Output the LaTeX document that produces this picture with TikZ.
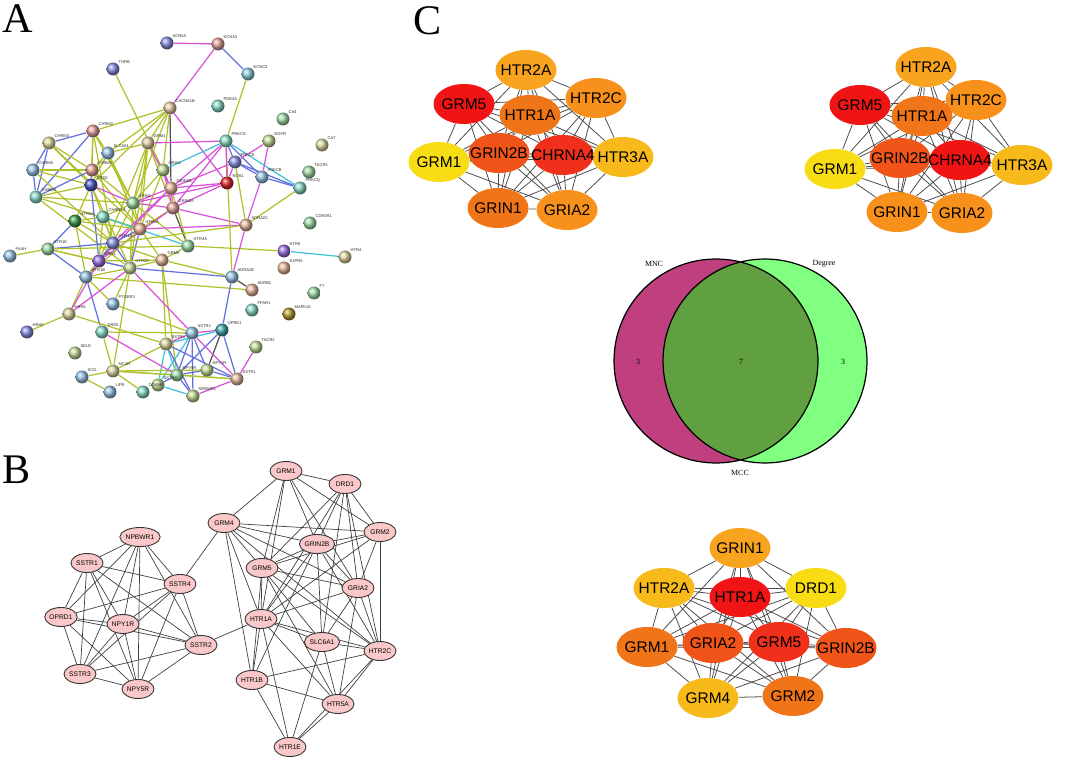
\documentclass[tikz,border=0pt]{standalone}
\usepackage{fontspec}
\setmainfont{Liberation Serif}
\newfontfamily\arialfont{Liberation Sans}
\usetikzlibrary{shapes.geometric,backgrounds}

% cores do painel A
\definecolor{sBlue}{HTML}{8A8FE0}
\definecolor{sSalmon}{HTML}{E4A09A}
\definecolor{sCyan}{HTML}{8CCFE0}
\definecolor{sTan}{HTML}{E0CCA0}
\definecolor{sAqua}{HTML}{8ADCC8}
\definecolor{sGreen}{HTML}{A0DCA8}
\definecolor{sKhaki}{HTML}{DCD8A0}
\definecolor{sLime}{HTML}{C4DC98}
\definecolor{sRed}{HTML}{E02828}
\definecolor{sNavy}{HTML}{4858C0}
\definecolor{sDkGreen}{HTML}{3C9C48}
\definecolor{sPurple}{HTML}{9A70E0}
\definecolor{sPeach}{HTML}{E8B89C}
\definecolor{sTeal}{HTML}{3CA8B0}
\definecolor{sOlive}{HTML}{B09830}
\definecolor{sLtBlue}{HTML}{98C4E4}
\definecolor{ey}{HTML}{B0C028}
\definecolor{em}{HTML}{D850D8}
\definecolor{eb}{HTML}{6070E0}
\definecolor{ec}{HTML}{40C0D8}
\definecolor{ek}{HTML}{505050}
% cores do painel B e C
\definecolor{bpink}{HTML}{FAC8C8}
\definecolor{cRed}{HTML}{F01414}
\definecolor{cRedA}{HTML}{F0301A}
\definecolor{cRedOr}{HTML}{F05418}
\definecolor{cOrDark}{HTML}{F07418}
\definecolor{cOrange}{HTML}{F8901C}
\definecolor{cOrLight}{HTML}{F8A41E}
\definecolor{cYelOr}{HTML}{F8BA1A}
\definecolor{cYellow}{HTML}{F8DC14}
\definecolor{vMnc}{HTML}{C0407F}
\definecolor{vDeg}{HTML}{80FF80}
\definecolor{vBoth}{HTML}{60A040}

\tikzset{
  aball/.style={circle,inner sep=0pt,minimum size=0.26cm,ball color=#1},
  alabel/.style={font=\arialfont\fontsize{2.3}{2.5}\selectfont,inner sep=0.3pt,text=black!85},
  aedge/.style={line width=0.7pt,draw=#1},
  bnode/.style={ellipse,draw=black!80,line width=0.5pt,fill=bpink,minimum width=0.64cm,
    minimum height=0.38cm,inner sep=0pt,font=\arialfont\fontsize{3.8}{4}\selectfont},
  bedge/.style={draw=black!75,line width=0.4pt},
  cnode/.style={ellipse,fill=#1,minimum width=1.22cm,minimum height=0.8cm,inner sep=0pt},
  ctext/.style={inner sep=0pt,font=\arialfont\fontsize{8.8}{10}\selectfont},
  cedge/.style={draw=black!70,line width=0.45pt},
  letter/.style={font=\fontsize{24}{26}\selectfont,inner sep=0pt},
  vlabel/.style={font=\fontsize{4.5}{5}\selectfont,inner sep=0pt}
}

\begin{document}
\begin{tikzpicture}[x=0.02cm,y=-0.02cm]
  \useasboundingbox (0,0) rectangle (1065,760);

  \node[letter] (lblA) at (18,19) {A};
  \node[letter] (lblB) at (17,470) {B};
  \node[letter] (lblC) at (428,21) {C};

    % Painel A
  \foreach \n/\x/\y/\c in {SCN5A/167/43/sBlue, KCNA3/218/44/sSalmon, THRB/113/69/sBlue,
      KCNC3/248/74/sCyan, CACNA1B/170/108/sTan, PDE2A/218/106/sAqua, CA4/283/119/sGreen,
      CA7/322/145/sKhaki, CHRM2/93/131/sSalmon, CHRM3/49/143/sKhaki, GRM1/148/143/sTan,
      PRKCG/226/141/sAqua, EGFR/269/141/sLime, SLC6A1/108/153/sLtBlue, CHRM5/33/170/sLtBlue,
      CHRM1/92/170/sSalmon, GRIA2/163/170/sLime, PRKCE/235/162/sBlue, PRKCB/262/177/sLtBlue,
      TACR3/309/172/sGreen, PRKCQ/300/188/sAqua, NOS1/227/183/sRed, GRIN2B/171/188/sPeach,
      DRD2/91/185/sNavy, CHRM4/36/197/sAqua, GRIN1/133/203/sGreen, GRIN2A/173/208/sSalmon,
      HTR5A/75/221/sDkGreen, CHRNA4/103/217/sAqua, ADRA2C/246/225/sPeach, HTR2A/140/229/sPeach,
      CDK5R1/310/223/sGreen, HTR1A/113/243/sBlue, HTR3A/188/246/sGreen, HTR1E/48/249/sGreen,
      FAAH/10/256/sLtBlue, HTR6/284/251/sPurple, HTR4/345/257/sKhaki, DRD1/99/261/sPurple,
      GRM8/162/260/sPeach, HTR2C/130/268/sLime, S1PR5/284/268/sPeach, HTR1B/86/277/sLtBlue,
      ADRA1B/232/277/sLtBlue, ADRB1/252/290/sPeach, F7/314/293/sGreen, PTGER3/113/304/sLtBlue,
      FFAR1/252/310/sAqua, MAPK10/289/314/sOlive, HRH3/69/314/sKhaki, HRH2/27/332/sBlue,
      OPRD1/222/330/sTeal, SSTR2/192/333/sLtBlue, DRD5/102/332/sAqua, SSTR4/166/344/sKhaki,
      TACR2/256/347/sLime, SELE/75/353/sLime, MC4R/113/371/sKhaki, NPY1R/207/370/sLime,
      NPY5R/177/375/sGreen, SSTR1/237/379/sPeach, SCD/82/377/sLtBlue, SSTR3/158/385/sLime,
      NPBWR1/193/396/sLime, CCKBR/143/392/sAqua, LIPE/110/392/sLtBlue}
    \node[aball=\c,label={[alabel]45:\n}] (a\n) at (\x,\y) {};

  \begin{pgfonlayer}{background}
  \foreach \a/\b/\k in {SCN5A/KCNA3/em, KCNA3/KCNC3/eb, KCNA3/CACNA1B/em, KCNC3/PRKCG/ey,
      THRB/GRIA2/ey, CACNA1B/CHRM2/ey, CACNA1B/GRM1/ey, CACNA1B/GRIA2/ey, CACNA1B/GRIN2B/ek,
      CACNA1B/NOS1/em, CACNA1B/SLC6A1/ey, CACNA1B/GRIN1/ey, CACNA1B/DRD2/ey,
      CHRM2/CHRM3/eb, CHRM2/CHRM1/ey, CHRM2/DRD2/ey, CHRM2/CHRM4/eb, CHRM2/SLC6A1/ey,
      CHRM2/GRIN1/ey, CHRM2/HTR1A/ey, CHRM3/CHRM5/eb, CHRM3/CHRM1/ey, CHRM3/DRD2/ey,
      CHRM3/HTR2A/ey, CHRM3/CHRM4/eb, CHRM5/CHRM4/eb, CHRM5/CHRM1/ey, CHRM5/DRD2/ey,
      CHRM5/HTR1A/ey, CHRM4/CHRM1/eb, CHRM4/DRD2/ey, CHRM4/HTR2A/ey, CHRM4/HTR2C/ey,
      CHRM4/GRIN1/ey, CHRM1/SLC6A1/ey, CHRM1/DRD2/eb, CHRM1/GRIN1/ey, CHRM1/HTR2A/ey,
      DRD2/SLC6A1/ey, DRD2/GRIN1/em, DRD2/HTR1A/ey, DRD2/DRD1/eb, DRD2/HTR2C/ey, DRD2/HTR5A/ey,
      SLC6A1/GRM1/ey, SLC6A1/GRIN1/ey, SLC6A1/HTR2A/ey, GRM1/GRIA2/ey, GRM1/GRIN2B/em,
      GRM1/GRIN1/ey, GRM1/GRIN2A/ey, GRM1/HTR2A/ey, GRM1/PRKCG/em, GRM1/DRD1/ey, GRM1/HTR2C/ey,
      GRIA2/GRIN2B/em, GRIA2/GRIN1/ey, GRIA2/GRIN2A/em, GRIA2/PRKCG/ec, GRIA2/HTR2A/ey,
      GRIN2B/GRIN2A/em, GRIN2B/GRIN1/em, GRIN2B/NOS1/em, GRIN2B/PRKCG/em, GRIN2B/PRKCE/em,
      GRIN2B/HTR1A/em, GRIN2B/DRD1/em, GRIN2A/GRIN1/em, GRIN2A/NOS1/em, GRIN2A/ADRA2C/em,
      GRIN2A/HTR3A/ek, GRIN2A/HTR2A/ey, GRIN2A/DRD1/em, GRIN1/HTR2A/ey, GRIN1/HTR1A/ey,
      GRIN1/HTR2C/ey, GRIN1/CHRNA4/ey, GRIN1/HTR3A/ey, HTR5A/CHRNA4/ey, HTR5A/HTR1A/ey,
      HTR5A/HTR1E/eb, HTR5A/HTR1B/ey, HTR5A/HTR2A/ey, CHRNA4/HTR2A/ey, CHRNA4/HTR1A/ey,
      CHRNA4/DRD1/ey, CHRNA4/HTR3A/ec, HTR2A/HTR1A/eb, HTR2A/HTR2C/eb, HTR2A/GRM8/ey,
      HTR2A/ADRA2C/em, HTR2A/HTR1B/ey, HTR1A/HTR1E/eb, HTR1A/DRD1/ey, HTR1A/HTR2C/eb,
      HTR1A/HTR1B/eb, HTR1A/GRM8/ey, HTR1E/FAAH/ey, HTR1E/DRD1/ey, HTR1E/HTR1B/eb,
      HTR1E/HTR2C/ey, HTR1E/HTR3A/ey, DRD1/HTR2C/eb, DRD1/HTR1B/ey, DRD1/GRM8/ey,
      GRM8/HTR2C/ey, GRM8/HTR3A/ey, GRM8/SSTR4/ey, GRM8/NPY5R/ey, HTR2C/HTR1B/ey,
      HTR2C/PTGER3/ey, HTR2C/ADRA1B/eb, HTR2C/MC4R/ey, HTR2C/SSTR2/em, HTR1B/HRH3/ey,
      HTR1B/DRD5/eb, HTR1B/PTGER3/ey, HTR1B/ADRB1/ey, HTR3A/HTR6/ey, HTR3A/GRIN2B/ey,
      HTR6/HTR4/ec, PRKCG/PRKCE/eb, PRKCG/PRKCB/eb, PRKCG/PRKCQ/ec, PRKCG/GRIN2A/em,
      PRKCG/ADRA1B/ey, EGFR/PRKCE/em, EGFR/PRKCB/em, PRKCE/PRKCB/eb, PRKCE/PRKCQ/eb,
      PRKCE/ADRA2C/ey, PRKCE/NOS1/em, PRKCB/PRKCQ/eb, PRKCB/ADRA2C/em, PRKCQ/ADRA2C/ey,
      NOS1/GRIN1/em, NOS1/PRKCG/em, ADRA2C/ADRA1B/em, ADRA2C/HTR1A/ey, ADRA1B/ADRB1/ek,
      ADRA1B/OPRD1/eb, ADRA1B/GRM8/ey, OPRD1/SSTR2/em, OPRD1/SSTR1/eb, OPRD1/NPY1R/ek,
      OPRD1/SSTR4/ec, OPRD1/NPY5R/eb, SSTR2/SSTR4/em, SSTR2/NPY1R/eb, SSTR2/NPY5R/eb,
      SSTR2/SSTR1/em, SSTR2/NPBWR1/eb, SSTR2/SSTR3/ec, SSTR2/DRD5/ey, SSTR2/PTGER3/ey,
      TACR2/SSTR1/em, SSTR1/NPY1R/eb, SSTR1/NPY5R/ey, SSTR1/NPBWR1/em, SSTR1/SSTR4/eb,
      SSTR1/MC4R/ey, SSTR4/NPY5R/ec, SSTR4/NPBWR1/eb, SSTR4/SSTR3/ec, SSTR4/HRH3/ey,
      SSTR4/MC4R/ey, NPY1R/NPY5R/eb, NPY1R/MC4R/ey, NPY5R/MC4R/ey, NPY5R/NPBWR1/eb,
      NPY5R/SSTR3/eb, SSTR3/NPBWR1/ec, MC4R/DRD5/ey, MC4R/CCKBR/ey, SCD/MC4R/ey, SCD/LIPE/ey,
      DRD5/NPY5R/em, HRH3/HRH2/ey, HRH3/HTR2C/em, HRH3/DRD1/em}
    \draw[aedge=\k] (a\a) -- (a\b);
  \end{pgfonlayer}

    % Painel B
  \foreach \n/\x/\y in {NPBWR1/140/537, SSTR1/87/563, SSTR4/180/584, OPRD1/61/617,
      NPY1R/123/624, SSTR2/201/645, SSTR3/80/674, NPY5R/138/689, GRM4/224/523, GRM5/262/568,
      HTR1A/261/619, HTR1B/252/680, GRM1/286/471, DRD1/345/484, GRM2/380/532, GRIN2B/317/544,
      GRIA2/358/588, SLC6A1/322/642, HTR2C/380/651, HTR5A/338/704, HTR1E/290/747}
    \node[bnode] (b\n) at (\x,\y) {\n};

  \begin{pgfonlayer}{background}
  \foreach \a [count=\i] in {NPBWR1,SSTR1,SSTR4,OPRD1,NPY1R,SSTR2,SSTR3,NPY5R}
    \foreach \b [count=\j] in {NPBWR1,SSTR1,SSTR4,OPRD1,NPY1R,SSTR2,SSTR3,NPY5R}
      {\ifnum\i<\j \draw[bedge] (b\a) -- (b\b); \fi}
  \foreach \a/\b in {SSTR4/GRM4, SSTR2/HTR1A, GRM4/GRM1, GRM4/GRM2, GRM4/GRIN2B, GRM4/GRM5,
      GRM4/GRIA2, GRM4/HTR1A, GRM4/HTR1B, GRM4/HTR2C, GRM1/DRD1, GRM1/GRM2, GRM1/GRIN2B,
      GRM1/GRM5, GRM1/HTR1A, GRM1/GRIA2, DRD1/GRM2, DRD1/GRIN2B, DRD1/GRM5, DRD1/GRIA2,
      DRD1/HTR1A, DRD1/SLC6A1, DRD1/HTR2C, GRM2/GRIN2B, GRM2/GRM5, GRM2/GRIA2, GRM2/HTR2C,
      GRM2/HTR1A, GRIN2B/GRM5, GRIN2B/GRIA2, GRIN2B/HTR1A, GRIN2B/SLC6A1, GRIN2B/HTR2C,
      GRIN2B/HTR1B, GRM5/GRIA2, GRM5/HTR1A, GRM5/HTR1B, GRM5/SLC6A1, GRM5/HTR2C, GRM5/HTR5A,
      GRIA2/HTR1A, GRIA2/SLC6A1, GRIA2/HTR2C, GRIA2/HTR5A, HTR1A/SLC6A1, HTR1A/HTR1B,
      HTR1A/HTR5A, HTR1A/HTR1E, HTR1A/HTR2C, SLC6A1/HTR2C, SLC6A1/HTR5A, SLC6A1/HTR1E,
      HTR2C/HTR1B, HTR2C/HTR5A, HTR2C/HTR1E, HTR1B/HTR5A, HTR1B/HTR1E, HTR5A/HTR1E}
    \draw[bedge] (b\a) -- (b\b);
  \end{pgfonlayer}

    % Painel C: MNC
  \foreach \n/\x/\y/\c in {HTR2A/526/70/cOrLight, HTR2C/596/98/cOrange, GRM5/464/104/cRed,
      HTR1A/530/115/cOrDark, GRM1/439/162/cYellow, GRIN2B/499/153/cRedOr,
      CHRNA4/563/155/cRedA, HTR3A/623/157/cYelOr, GRIN1/498/208/cOrDark, GRIA2/567/210/cOrange}
    \node[cnode=\c] (mnc\n) at (\x,\y) {};
  \foreach \n in {HTR2A,HTR2C,GRM5,HTR1A,GRM1,GRIN2B,CHRNA4,HTR3A,GRIN1,GRIA2}
    \node[ctext] (mnct\n) at (mnc\n) {\n};

    % Painel C: Degree
  \foreach \n/\x/\y/\c in {HTR2A/926/67/cOrLight, HTR2C/976/100/cOrange, GRM5/860/105/cRed,
      HTR1A/922/116/cOrDark, GRM1/835/169/cYellow, GRIN2B/900/158/cRedOr,
      CHRNA4/960/160/cRed, HTR3A/1022/165/cYelOr, GRIN1/897/212/cOrange, GRIA2/962/213/cOrange}
    \node[cnode=\c] (deg\n) at (\x,\y) {};
  \foreach \n in {HTR2A,HTR2C,GRM5,HTR1A,GRM1,GRIN2B,CHRNA4,HTR3A,GRIN1,GRIA2}
    \node[ctext] (degt\n) at (deg\n) {\n};

    % Painel C: MCC
  \foreach \n/\x/\y/\c in {GRIN1/740/548/cOrLight, HTR2A/664/588/cYelOr, DRD1/816/588/cYellow,
      HTR1A/740/597/cRed, GRM1/647/647/cOrDark, GRIA2/713/643/cRedOr, GRM5/779/642/cRedA,
      GRIN2B/846/648/cRedOr, GRM4/708/698/cYelOr, GRM2/793/696/cOrDark}
    \node[cnode=\c] (mcc\n) at (\x,\y) {};
  \foreach \n in {GRIN1,HTR2A,DRD1,HTR1A,GRM1,GRIA2,GRM5,GRIN2B,GRM4,GRM2}
    \node[ctext] (mcct\n) at (mcc\n) {\n};

  \begin{pgfonlayer}{background}
  \foreach \p in {mnc,deg}
    \foreach \a [count=\i] in {HTR2A,HTR2C,GRM5,HTR1A,GRM1,GRIN2B,CHRNA4,HTR3A,GRIN1,GRIA2}
      \foreach \b [count=\j] in {HTR2A,HTR2C,GRM5,HTR1A,GRM1,GRIN2B,CHRNA4,HTR3A,GRIN1,GRIA2}
        {\ifnum\i<\j \draw[cedge] (\p\a) -- (\p\b); \fi}
  \foreach \a [count=\i] in {GRIN1,HTR2A,DRD1,HTR1A,GRM1,GRIA2,GRM5,GRIN2B,GRM4,GRM2}
    \foreach \b [count=\j] in {GRIN1,HTR2A,DRD1,HTR1A,GRM1,GRIA2,GRM5,GRIN2B,GRM4,GRM2}
      {\ifnum\i<\j \draw[cedge] (mcc\a) -- (mcc\b); \fi}
  \end{pgfonlayer}

    % Venn
  \coordinate (vl) at (716,361);
  \coordinate (vr) at (765,361);
  \fill[vMnc] (vl) circle[radius=2.04cm];
  \fill[vDeg] (vr) circle[radius=2.04cm];
  \begin{scope}
    \clip (vl) circle[radius=2.04cm];
    \fill[vBoth] (vr) circle[radius=2.04cm];
  \end{scope}
  \draw[line width=0.7pt] (vl) circle[radius=2.04cm] (vr) circle[radius=2.04cm];
  \node[vlabel] (vMNC) at (654,264) {MNC};
  \node[vlabel] (vDegree) at (824,264) {Degree};
  \node[vlabel] (vMCC) at (740,473) {MCC};
  \node[vlabel] (vn1) at (638,362) {3};
  \node[vlabel] (vn2) at (741,362) {7};
  \node[vlabel] (vn3) at (843,362) {3};
\end{tikzpicture}
\end{document}
